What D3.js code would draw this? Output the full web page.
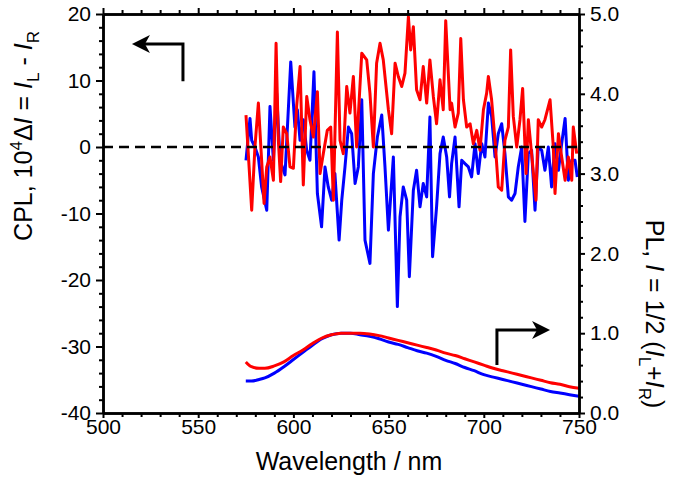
<!DOCTYPE html>
<html><head><meta charset="utf-8">
<script src="https://cdn.jsdelivr.net/npm/d3@7"></script>
<style>
body{margin:0;background:#fff}
svg{display:block}
text{font-family:"Liberation Sans",Arial,sans-serif;fill:#000}
</style>
</head><body><svg id="c" width="676" height="484"></svg>
<script>
// ---------- data ----------
const xTicks = [500, 550, 600, 650, 700, 750];
const xTickLabels = ["500", "550", "600", "650", "700", "750"];
const yLTicks = [-40, -30, -20, -10, 0, 10, 20];
const yLTickLabels = ["-40", "-30", "-20", "-10", "0", "10", "20"];
const yRTicks = [0, 1, 2, 3, 4, 5];
const yRTickLabels = ["0.0", "1.0", "2.0", "3.0", "4.0", "5.0"];

const redWl = [575.1,578.1,579.8,581.6,584.6,586.0,587.7,589.5,590.9,592.1,593.3,594.7,596.5,598.2,600.0,601.7,603.5,605.2,607.0,608.7,610.5,612.6,614.0,615.7,617.8,619.6,621.0,623.1,624.5,626.2,628.0,629.7,631.5,633.2,635.9,638.5,640.2,642.0,643.7,645.5,647.2,649.9,651.6,653.4,655.1,656.9,658.6,660.4,661.6,663.0,664.7,666.5,668.2,670.0,671.7,673.5,675.2,677.0,678.7,680.0,682.3,683.1,684.9,686.6,687.9,689.3,691.0,692.8,694.5,696.3,698.0,699.8,701.5,702.4,704.1,705.9,707.6,709.4,711.1,712.9,714.1,715.5,717.3,719.0,720.4,722.2,723.4,725.1,727.4,728.6,730.4,732.1,734.8,736.5,737.4,739.2,740.9,742.7,744.4,746.2,747.0,748.8];
const redCPL = [4.8,-9.5,0.0,6.6,-8.5,-3.0,-1.5,-5.0,15.6,1.0,-5.2,3.0,2.0,-3.0,-3.2,6.1,12.1,-5.7,7.6,4.1,1.5,8.3,-4.0,-1.0,2.5,3.0,-8.0,17.3,1.0,-1.0,9.1,5.1,10.6,0.0,14.1,13.1,8.1,0.0,12.6,15.6,13.1,5.6,2.0,12.6,10.6,9.1,11.1,19.6,14.6,18.1,8.6,7.1,12.1,6.6,13.1,7.6,3.5,10.1,5.6,19.0,5.6,6.6,3.0,5.1,16.3,7.1,3.0,3.5,0.5,2.5,-0.5,5.6,8.1,10.6,7.1,1.0,-6.0,-6.5,1.0,3.0,14.6,4.6,0.0,4.1,8.8,-4.0,4.1,-1.0,-8.0,4.1,3.0,4.1,7.1,0.0,-7.0,2.0,-1.5,-5.0,-1.5,-5.0,3.0,-1.0];

const blueWl = [575.1,577.2,578.1,579.8,581.6,583.3,586.0,587.7,589.5,591.2,593.0,595.6,598.6,600.8,602.1,603.5,605.2,607.0,608.7,610.8,612.6,614.8,616.6,618.3,620.1,621.8,624.0,625.4,627.1,628.9,630.6,632.4,634.1,635.9,637.6,640.2,642.0,644.1,646.4,648.1,649.9,652.5,654.6,656.0,657.7,659.5,660.9,663.0,664.7,666.5,668.2,670.0,671.7,673.1,675.2,677.0,678.7,680.5,682.0,683.1,684.9,687.0,688.4,690.1,691.9,693.6,695.4,697.1,698.9,700.6,702.4,704.1,705.9,707.6,709.4,711.1,712.9,714.6,716.4,718.1,719.9,721.6,723.4,725.1,726.9,728.6,730.4,732.1,733.9,735.6,737.4,739.2,740.9,742.7,744.4,746.2,747.9,749.1];
const blueCPL = [-2.0,4.3,1.0,0.0,-1.5,-6.0,-9.5,6.1,-2.0,8.1,-2.0,-4.2,12.8,3.0,5.6,1.0,4.1,-0.5,-2.0,11.3,-7.0,-12.0,-3.0,-6.0,-8.0,-4.0,-14.0,-8.0,-3.0,3.0,2.0,-5.5,-3.0,7.1,-14.0,-17.5,-4.0,1.5,4.8,-3.0,-12.5,-1.5,-24.0,-10.5,-6.0,-8.0,-19.5,-6.5,-3.5,-9.0,-5.5,-7.5,4.5,-16.5,-9.0,-1.0,1.5,-1.5,-7.5,-2.5,1.5,-9.0,-2.0,-2.5,-3.0,-4.5,0.5,-4.0,0.5,-1.5,6.6,4.6,-1.5,2.0,3.5,-1.0,-7.5,-8.0,-7.0,-3.0,0.0,-11.2,-1.0,-0.5,-9.5,0.0,-0.5,-3.5,0.0,-6.0,0.5,-3.5,0.5,4.3,-5.0,-2.0,-2.0,-4.5];

const plWl   = [575,578,582,585,590,595,600,605,610,615,620,625,630,635,640,645,650,655,660,665,670,675,680,685,690,695,700,705,710,715,720,725,730,735,740,745,750];
const plRed  = [0.64,0.58,0.56,0.56,0.59,0.64,0.72,0.79,0.87,0.94,0.98,1.00,1.00,1.00,0.99,0.97,0.94,0.91,0.88,0.85,0.82,0.79,0.75,0.72,0.68,0.64,0.60,0.56,0.53,0.50,0.47,0.44,0.41,0.38,0.36,0.33,0.31];
const plBlue = [0.40,0.40,0.42,0.44,0.50,0.58,0.67,0.76,0.85,0.93,0.98,1.00,1.00,0.98,0.96,0.93,0.89,0.86,0.82,0.78,0.75,0.71,0.66,0.62,0.57,0.53,0.48,0.45,0.42,0.39,0.36,0.33,0.30,0.27,0.25,0.23,0.21];

// arrow annotations in data units: corner, tail end, tip
const leftArrow  = {tail:[542, 9.9], corner:[542, 15.5], tip:[515.2, 15.5]};   // CPL axis
const rightArrow = {tail:[706.9, 0.60], corner:[706.9, 1.04], tip:[734.8, 1.04]}; // PL axis

// ---------- drawing ----------
const svg = d3.select("#c");
const W = 676, H = 484;
const L = 103, R = 579, T = 14, B = 413;
const x = d3.scaleLinear([500, 750], [L, R]);
const yL = d3.scaleLinear([-40, 20], [B, T]);
const yR = d3.scaleLinear([0, 5], [B, T]);

const RED = "#ff0000", BLUE = "#0000ff";

// lines
const lineL = (wl, v) => d3.line().x((d, i) => x(wl[i])).y(d => yL(d))(v);
const lineR = (wl, v) => d3.line().curve(d3.curveMonotoneX).x((d, i) => x(wl[i])).y(d => yR(d))(v);

svg.append("path").attr("d", lineR(plWl, plBlue)).attr("fill", "none").attr("stroke", BLUE).attr("stroke-width", 3);
svg.append("path").attr("d", lineR(plWl, plRed)).attr("fill", "none").attr("stroke", RED).attr("stroke-width", 3);
svg.append("path").attr("d", lineL(blueWl, blueCPL)).attr("fill", "none").attr("stroke", BLUE).attr("stroke-width", 3).attr("stroke-linejoin", "round");
svg.append("path").attr("d", lineL(redWl, redCPL)).attr("fill", "none").attr("stroke", RED).attr("stroke-width", 3).attr("stroke-linejoin", "round");

// zero dashed line
svg.append("line").attr("x1", x(500)).attr("x2", x(750)).attr("y1", yL(0)).attr("y2", yL(0))
  .attr("stroke", "#000").attr("stroke-width", 2.5).attr("stroke-dasharray", "10,6");

// axes
function styleAxis(g) {
  g.selectAll(".domain").attr("stroke", "#000").attr("stroke-width", 2.5);
  g.selectAll(".tick line").attr("stroke", "#000").attr("stroke-width", 2);
  g.selectAll("text").style("font-family", '"Liberation Sans",Arial,sans-serif').style("font-size", "21px").attr("fill", "#000");
}
const xMinor = d3.range(510, 750, 10).filter(v => v % 50 !== 0);
const yLMinor = d3.range(-38, 20, 2).filter(v => v % 10 !== 0);
const yRMinor = d3.range(1, 25).map(v => v / 5).filter(v => Math.abs(v - Math.round(v)) > 1e-6);

// bottom
svg.append("g").attr("transform", `translate(0,${B})`)
  .call(d3.axisBottom(x).tickValues(xMinor).tickSize(4).tickSizeOuter(0).tickFormat("")).call(styleAxis);
svg.append("g").attr("transform", `translate(0,${B})`)
  .call(d3.axisBottom(x).tickValues(xTicks).tickSize(5).tickSizeOuter(0).tickPadding(1)
    .tickFormat((d, i) => xTickLabels[i])).call(styleAxis);
// top
svg.append("g").attr("transform", `translate(0,${T})`)
  .call(d3.axisTop(x).tickValues(xMinor).tickSize(4).tickSizeOuter(0).tickFormat("")).call(styleAxis);
svg.append("g").attr("transform", `translate(0,${T})`)
  .call(d3.axisTop(x).tickValues(xTicks).tickSize(6).tickSizeOuter(0).tickFormat("")).call(styleAxis);
// left
svg.append("g").attr("transform", `translate(${L},0)`)
  .call(d3.axisLeft(yL).tickValues(yLMinor).tickSize(4).tickSizeOuter(0).tickFormat("")).call(styleAxis);
svg.append("g").attr("transform", `translate(${L},0)`)
  .call(d3.axisLeft(yL).tickValues(yLTicks).tickSize(7).tickSizeOuter(0).tickPadding(5)
    .tickFormat((d, i) => yLTickLabels[i])).call(styleAxis);
// right
svg.append("g").attr("transform", `translate(${R},0)`)
  .call(d3.axisRight(yR).tickValues(yRMinor).tickSize(4).tickSizeOuter(0).tickFormat("")).call(styleAxis);
svg.append("g").attr("transform", `translate(${R},0)`)
  .call(d3.axisRight(yR).tickValues(yRTicks).tickSize(6).tickSizeOuter(0).tickPadding(5)
    .tickFormat((d, i) => yRTickLabels[i])).call(styleAxis);

// arrows
function arrow(a, yS, dir) {
  const pts = [a.tail, a.corner, a.tip].map(p => [x(p[0]), yS(p[1])]);
  const tip = pts[2];
  const back = tip[0] - dir * 9;
  svg.append("path").attr("d", d3.line()([pts[0], pts[1], [back, tip[1]]]))
    .attr("fill", "none").attr("stroke", "#000").attr("stroke-width", 3);
  const hx = tip[0] - dir * 18;
  svg.append("path")
    .attr("d", `M${tip[0]},${tip[1]} L${hx},${tip[1] - 9} L${tip[0] - dir * 13},${tip[1]} L${hx},${tip[1] + 9} Z`)
    .attr("fill", "#000");
}
arrow(leftArrow, yL, -1);
arrow(rightArrow, yR, 1);

// axis titles
const tf = '"Liberation Sans",Arial,sans-serif';
svg.append("text").attr("x", (L + R) / 2 + 8).attr("y", 470).attr("text-anchor", "middle")
  .style("font-family", tf).style("font-size", "25px").text("Wavelength / nm");

const lt = svg.append("text").attr("transform", "translate(32,136) rotate(-90)").attr("text-anchor", "middle")
  .style("font-family", tf).style("font-size", "25px");
lt.append("tspan").text("CPL, 10");
lt.append("tspan").attr("dy", -10).style("font-size", "17px").text("4");
lt.append("tspan").attr("dy", 10).text("Δ");
lt.append("tspan").style("font-style", "italic").text("I");
lt.append("tspan").text(" = ");
lt.append("tspan").style("font-style", "italic").text("I");
lt.append("tspan").attr("dy", 7).style("font-size", "17px").text("L");
lt.append("tspan").attr("dy", -7).text(" - ");
lt.append("tspan").style("font-style", "italic").text("I");
lt.append("tspan").attr("dy", 7).style("font-size", "17px").text("R");

const rt = svg.append("text").attr("transform", "translate(646,314) rotate(90)").attr("text-anchor", "middle")
  .style("font-family", tf).style("font-size", "25px");
rt.append("tspan").text("PL, ");
rt.append("tspan").style("font-style", "italic").text("I");
rt.append("tspan").text(" = 1/2 (");
rt.append("tspan").style("font-style", "italic").text("I");
rt.append("tspan").attr("dy", 7).style("font-size", "17px").text("L");
rt.append("tspan").attr("dy", -7).text("+");
rt.append("tspan").style("font-style", "italic").text("I");
rt.append("tspan").attr("dy", 7).style("font-size", "17px").text("R");
rt.append("tspan").attr("dy", -7).text(")");
</script></body></html>
